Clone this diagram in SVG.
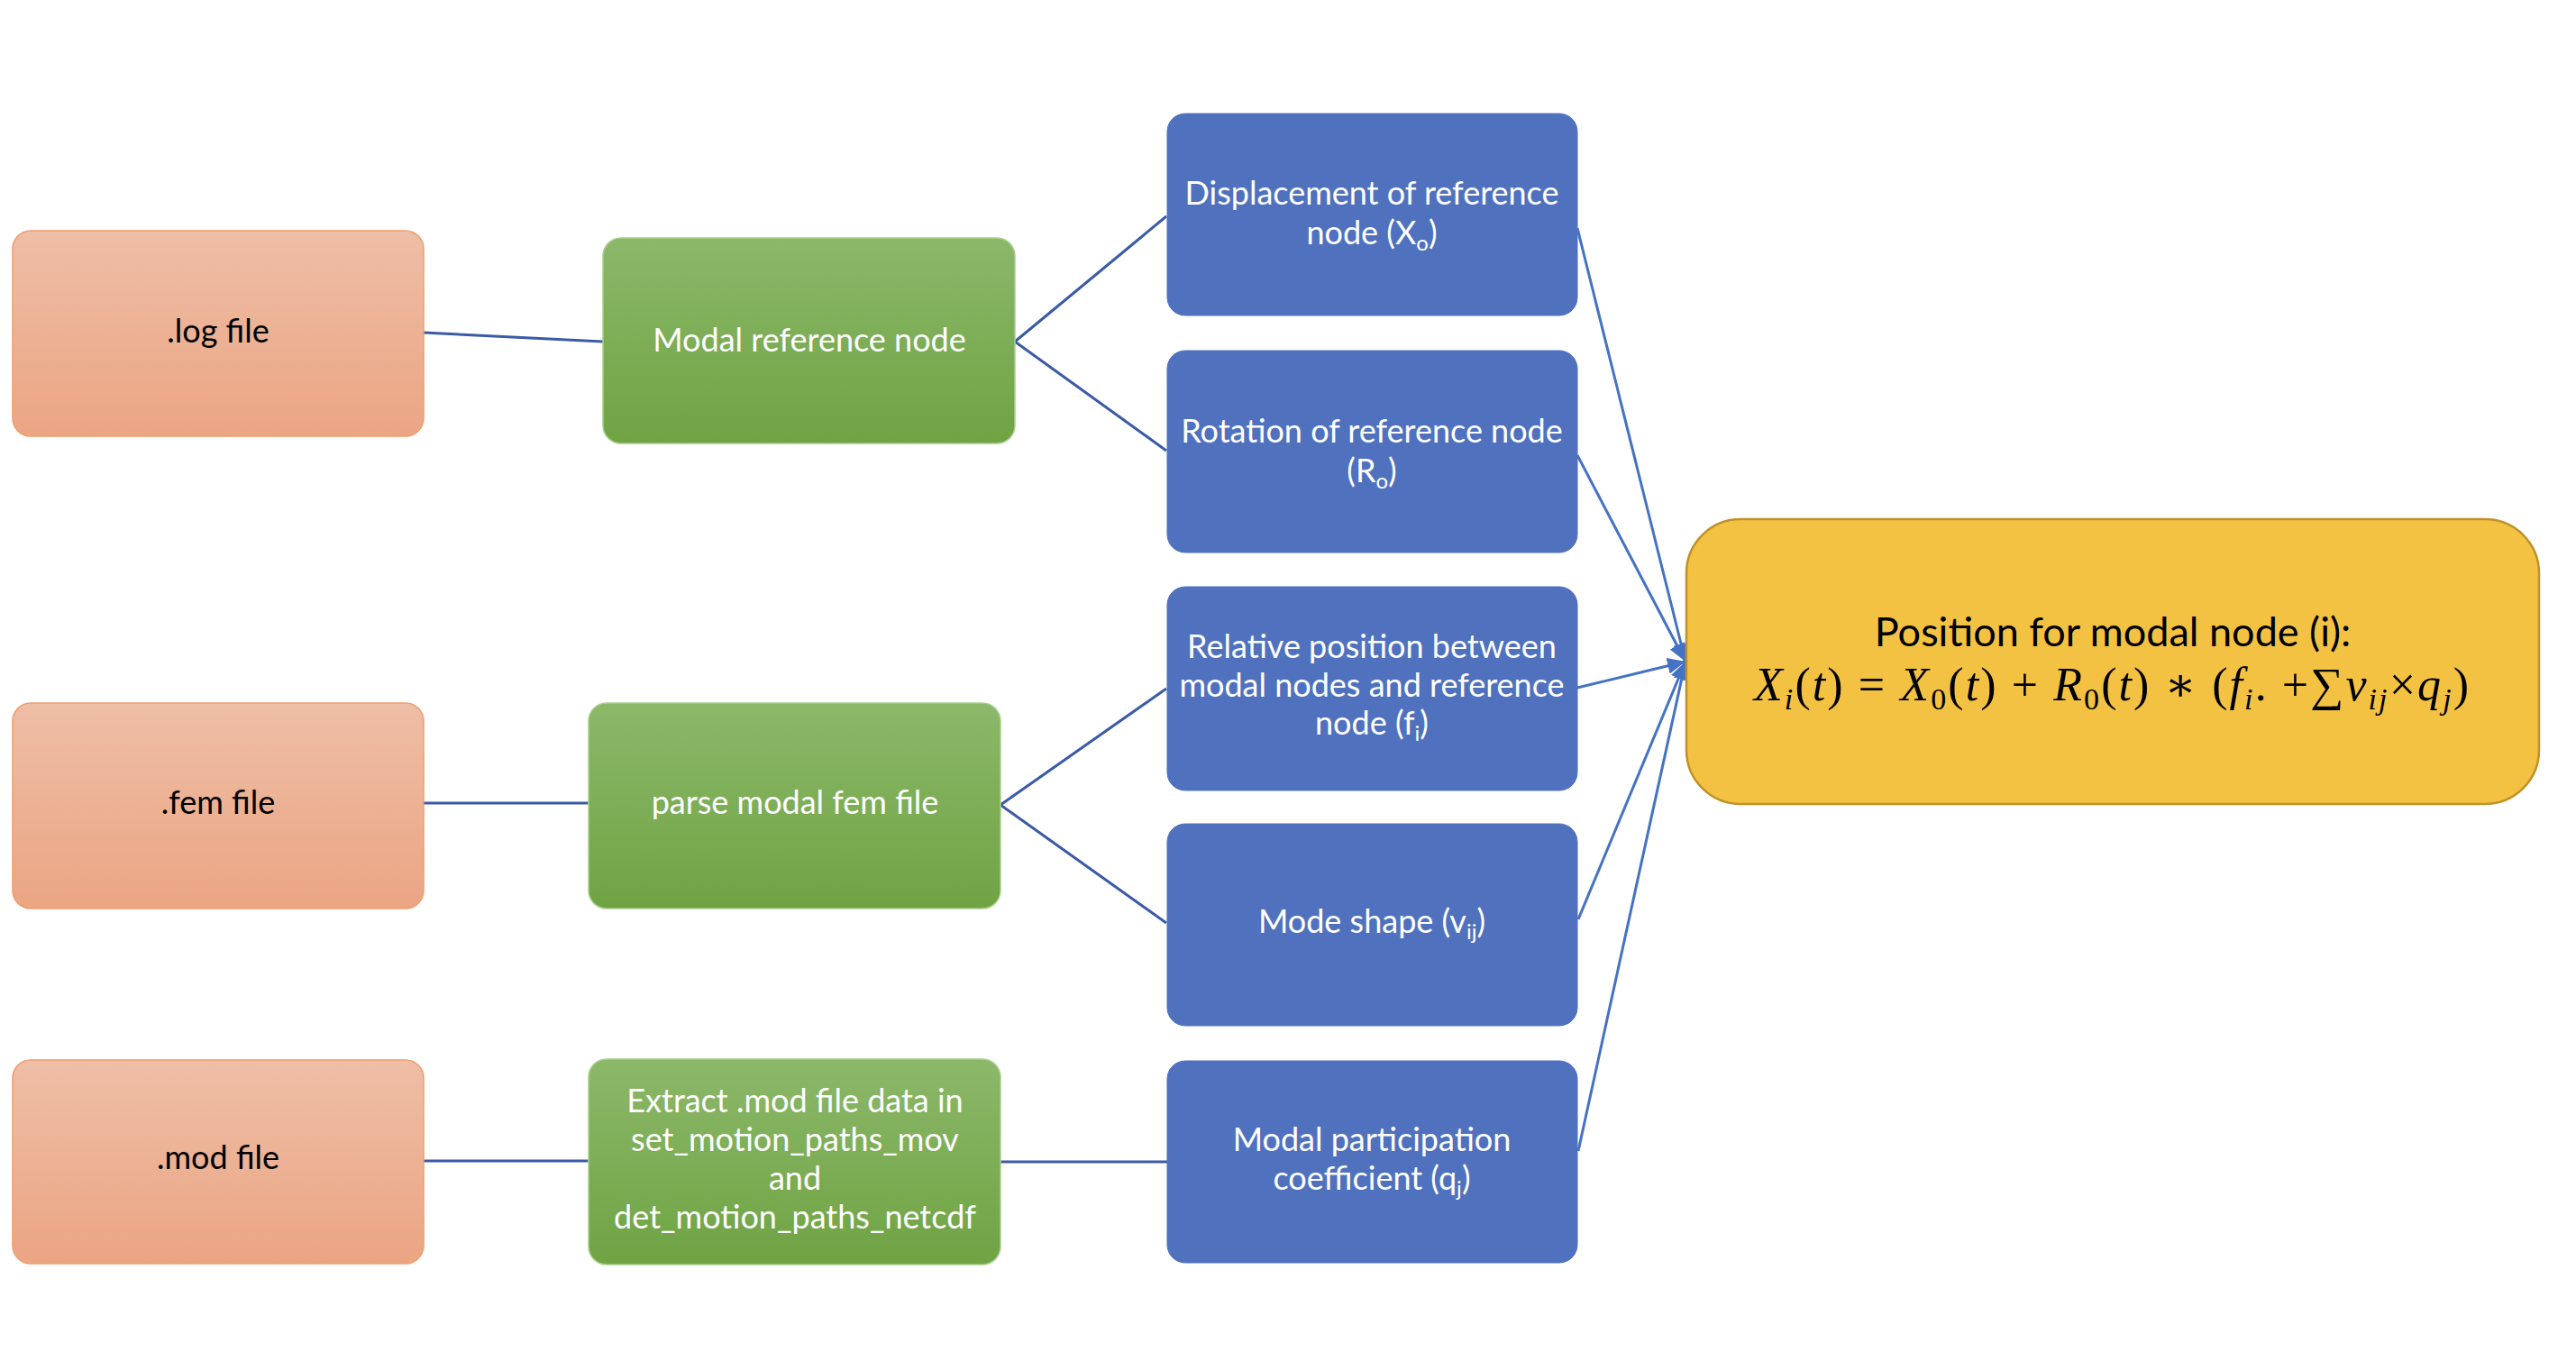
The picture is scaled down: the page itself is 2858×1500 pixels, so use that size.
<svg xmlns="http://www.w3.org/2000/svg" width="2858" height="1500" viewBox="0 0 2858 1500">
<defs>
<linearGradient id="gOrange" x1="0" y1="0" x2="0" y2="1">
<stop offset="0" stop-color="#EEBEA6"/>
<stop offset="1" stop-color="#EBA583"/>
</linearGradient>
<linearGradient id="gGreen" x1="0" y1="0" x2="0" y2="1">
<stop offset="0" stop-color="#8CB86A"/>
<stop offset="1" stop-color="#6FA343"/>
</linearGradient>
<marker id="arrow" markerUnits="userSpaceOnUse" markerWidth="22" markerHeight="18" refX="20" refY="9" orient="auto">
<path d="M0,0 L20,9 L0,18 z" fill="#4472C4"/>
</marker>
</defs>
<style>
.orange{fill:url(#gOrange);stroke:#EE9E6E;stroke-width:1.5}
.green{fill:url(#gGreen);stroke:#A9CF8C;stroke-width:1.5}
.blue{fill:#5072BE;stroke:#5072BE;stroke-width:1}
.yellow{fill:#F4C242;stroke:#BF9128;stroke-width:2.5}
.t{font-family:Lato,"Liberation Sans",sans-serif;font-size:36px;text-anchor:middle}
.w{fill:#FFFFFF}
.k{fill:#000000}
.sub{font-size:24px}
.title{font-family:Lato,"Liberation Sans",sans-serif;font-size:45px;text-anchor:middle;fill:#000}
.math{font-family:"Liberation Serif","DejaVu Serif",serif;font-size:52px;fill:#000}
.mi{font-style:italic}
.ms{font-size:34px}
.lineL{stroke:#3B5BA6;stroke-width:3;fill:none}
.lineR{stroke:#4472C4;stroke-width:3;fill:none;marker-end:url(#arrow)}
</style>
<rect width="2858" height="1500" fill="#FFFFFF"/>

<g id="connectors">
<path class="lineL" d="M470,369 L669,379"/>
<path class="lineL" d="M1126,379 L1294,240"/>
<path class="lineL" d="M1126,379 L1294,500"/>
<path class="lineL" d="M470,891 L653,891"/>
<path class="lineL" d="M1110,893 L1294,764"/>
<path class="lineL" d="M1110,893 L1294,1024"/>
<path class="lineL" d="M470,1288 L653,1288"/>
<path class="lineL" d="M1110,1289 L1295,1289"/>
<path class="lineR" d="M1750,253 L1870,734"/>
<path class="lineR" d="M1750,505 L1870,734"/>
<path class="lineR" d="M1750,763 L1870,734"/>
<path class="lineR" d="M1751,1020 L1870,734"/>
<path class="lineR" d="M1751,1277 L1870,734"/>
</g>

<g id="node-log">
<rect class="orange" x="14" y="256" width="456" height="228" rx="20"/>
<text class="t k" x="242" y="380">.log file</text>
</g>
<g id="node-fem">
<rect class="orange" x="14" y="780" width="456" height="228" rx="20"/>
<text class="t k" x="242" y="903">.fem file</text>
</g>
<g id="node-mod">
<rect class="orange" x="14" y="1176" width="456" height="226" rx="20"/>
<text class="t k" x="242" y="1297">.mod file</text>
</g>

<g id="node-modal-ref">
<rect class="green" x="669" y="264" width="457" height="228" rx="20"/>
<text class="t w" x="898" y="390">Modal reference node</text>
</g>
<g id="node-parse">
<rect class="green" x="653" y="780" width="457" height="228" rx="20"/>
<text class="t w" x="882" y="903">parse modal fem file</text>
</g>
<g id="node-extract">
<rect class="green" x="653" y="1175" width="457" height="228" rx="20"/>
<text class="t w" x="882" y="1234">Extract .mod file data in</text>
<text class="t w" x="882" y="1277">set_motion_paths_mov</text>
<text class="t w" x="882" y="1320">and</text>
<text class="t w" x="882" y="1363">det_motion_paths_netcdf</text>
</g>

<g id="node-disp">
<rect class="blue" x="1295" y="126" width="455" height="224" rx="20"/>
<text class="t w" x="1522" y="227">Displacement of reference</text>
<text class="t w" x="1522" y="271">node (X<tspan class="sub" dy="7">o</tspan><tspan dy="-7">)</tspan></text>
</g>
<g id="node-rot">
<rect class="blue" x="1295" y="389" width="455" height="224" rx="20"/>
<text class="t w" x="1522" y="491">Rotation of reference node</text>
<text class="t w" x="1522" y="535">(R<tspan class="sub" dy="7">o</tspan><tspan dy="-7">)</tspan></text>
</g>
<g id="node-rel">
<rect class="blue" x="1295" y="651" width="455" height="226" rx="20"/>
<text class="t w" x="1522" y="730">Relative position between</text>
<text class="t w" x="1522" y="773">modal nodes and reference</text>
<text class="t w" x="1522" y="815">node (f<tspan class="sub" dy="7">i</tspan><tspan dy="-7">)</tspan></text>
</g>
<g id="node-mode">
<rect class="blue" x="1295" y="914" width="455" height="224" rx="20"/>
<text class="t w" x="1522" y="1035">Mode shape (v<tspan class="sub" dy="7">ij</tspan><tspan dy="-7">)</tspan></text>
</g>
<g id="node-coef">
<rect class="blue" x="1295" y="1177" width="455" height="224" rx="20"/>
<text class="t w" x="1522" y="1277">Modal participation</text>
<text class="t w" x="1522" y="1320">coefficient (q<tspan class="sub" dy="7">j</tspan><tspan dy="-7">)</tspan></text>
</g>

<g id="node-position">
<rect class="yellow" x="1871" y="576" width="946" height="316" rx="60"/>
<text class="title" x="2344" y="717">Position for modal node (i):</text>
<text class="math" x="1946" y="777" textLength="793" lengthAdjust="spacing"><tspan class="mi">X</tspan><tspan class="mi ms" dy="10">i</tspan><tspan dy="-10">(</tspan><tspan class="mi">t</tspan><tspan>) = </tspan><tspan class="mi">X</tspan><tspan class="ms" dy="10">0</tspan><tspan dy="-10">(</tspan><tspan class="mi">t</tspan><tspan>) + </tspan><tspan class="mi">R</tspan><tspan class="ms" dy="10">0</tspan><tspan dy="-10">(</tspan><tspan class="mi">t</tspan><tspan>) ∗ (</tspan><tspan class="mi">f</tspan><tspan class="mi ms" dy="10">i</tspan><tspan dy="-10">. +∑</tspan><tspan class="mi">v</tspan><tspan class="mi ms" dy="10">ij</tspan><tspan dy="-10">×</tspan><tspan class="mi">q</tspan><tspan class="mi ms" dy="10">j</tspan><tspan dy="-10">)</tspan></text>
</g>
</svg>
